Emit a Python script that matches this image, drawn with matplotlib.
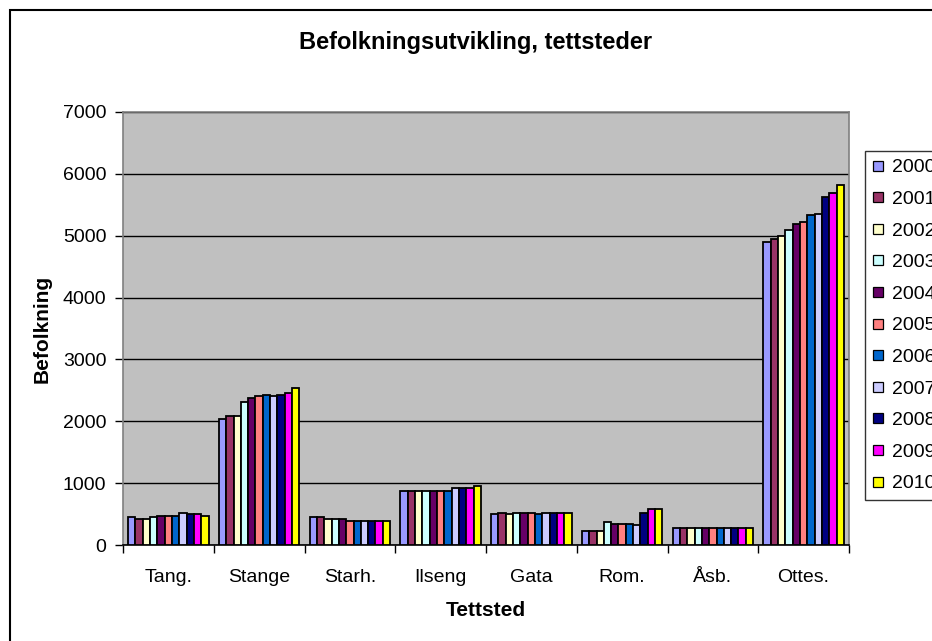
import numpy as np
import matplotlib.pyplot as plt
from matplotlib.patches import Rectangle
from matplotlib.lines import Line2D

plt.rcParams['font.family'] = ['Liberation Sans', 'DejaVu Sans']

# Data
places = ['Tang.', 'Stange', 'Starh.', 'Ilseng', 'Gata', 'Rom.', 'Åsb.', 'Ottes.']
years = ['2000', '2001', '2002', '2003', '2004', '2005',
         '2006', '2007', '2008', '2009', '2010']

pop_2000 = [448, 2040, 448, 874, 497, 219, 268, 4896]
pop_2001 = [421, 2090, 448, 874, 525, 219, 268, 4948]
pop_2002 = [421, 2090, 421, 874, 497, 219, 268, 5000]
pop_2003 = [448, 2310, 421, 874, 525, 377, 268, 5095]
pop_2004 = [470, 2370, 421, 874, 525, 344, 268, 5190]
pop_2005 = [470, 2410, 393, 874, 525, 344, 268, 5221]
pop_2006 = [470, 2430, 393, 874, 497, 344, 268, 5332]
pop_2007 = [519, 2410, 393, 923, 525, 322, 268, 5358]
pop_2008 = [497, 2430, 393, 923, 525, 525, 268, 5626]
pop_2009 = [497, 2460, 393, 923, 525, 574, 268, 5684]
pop_2010 = [470, 2540, 393, 951, 525, 574, 268, 5826]

series = [pop_2000, pop_2001, pop_2002, pop_2003, pop_2004, pop_2005,
          pop_2006, pop_2007, pop_2008, pop_2009, pop_2010]

# Excel 2003 default chart palette
colors = ['#9999FF', '#993366', '#FFFFCC', '#CCFFFF', '#660066', '#FF8080',
          '#0066CC', '#CCCCFF', '#000080', '#FF00FF', '#FFFF00']

W, H = 932, 641
fig = plt.figure(figsize=(W / 100, H / 100), dpi=100)

# outer chart border (cropped at right and bottom in the reference)
fig.patches.append(Rectangle((10 / W, -0.05), 1.0, 1 - 10 / H + 0.05,
                             transform=fig.transFigure, fill=False,
                             edgecolor='black', linewidth=1.5))

left, right, top, bottom = 123, 849, 112, 545
ax = fig.add_axes([left / W, 1 - bottom / H, (right - left) / W, (bottom - top) / H])
ax.set_facecolor('#C0C0C0')

x = np.arange(len(places))
n = len(series)
group = 0.8867
bw = group / n
for i, (vals, col) in enumerate(zip(series, colors)):
    ax.bar(x - group / 2 + bw * (i + 0.5), vals, width=bw, color=col,
           edgecolor='black', linewidth=1.3, zorder=3)

ax.set_xlim(-0.5, len(places) - 0.5)
ax.set_ylim(0, 7000)
ax.set_yticks(np.arange(0, 7001, 1000))
ax.yaxis.grid(True, color='black', linewidth=1.0, zorder=1)
ax.set_axisbelow(True)

ax.set_xticks(x)
ax.set_xticklabels(places)
ax.set_xticks(np.arange(-0.5, len(places), 1.0), minor=True)
ax.tick_params(axis='x', which='major', length=0, pad=17, labelsize=14)
ax.tick_params(axis='x', which='minor', length=6, width=1, color='black')
ax.tick_params(axis='y', length=6, width=1, pad=6, labelsize=14)

for side in ['top', 'right', 'left']:
    ax.spines[side].set_color('#808080')
    ax.spines[side].set_linewidth(1.2)
ax.spines['bottom'].set_color('black')
ax.spines['bottom'].set_linewidth(1.2)

ax.set_ylabel('Befolkning', fontsize=15, fontweight='bold', labelpad=8)
ax.set_xlabel('Tettsted', fontsize=15, fontweight='bold', labelpad=11)

fig.text(476 / W, 1 - 42 / H, 'Befolkningsutvikling, tettsteder',
         ha='center', va='center', fontsize=17, fontweight='bold')

# small square legend keys like Excel's
handles = [Line2D([], [], marker='s', linestyle='', markersize=6.5,
                  markerfacecolor=c, markeredgecolor='black',
                  markeredgewidth=0.9) for c in colors]
leg = fig.legend(handles, years, loc='upper left',
                 bbox_to_anchor=(865 / W, 1 - 151 / H),
                 frameon=True, fancybox=False, edgecolor='black',
                 fontsize=14, handlelength=0.5, handletextpad=0.5,
                 labelspacing=0.72, borderpad=0.4, borderaxespad=0)
leg.get_frame().set_linewidth(1.0)

fig.savefig('out.png', dpi=100)
